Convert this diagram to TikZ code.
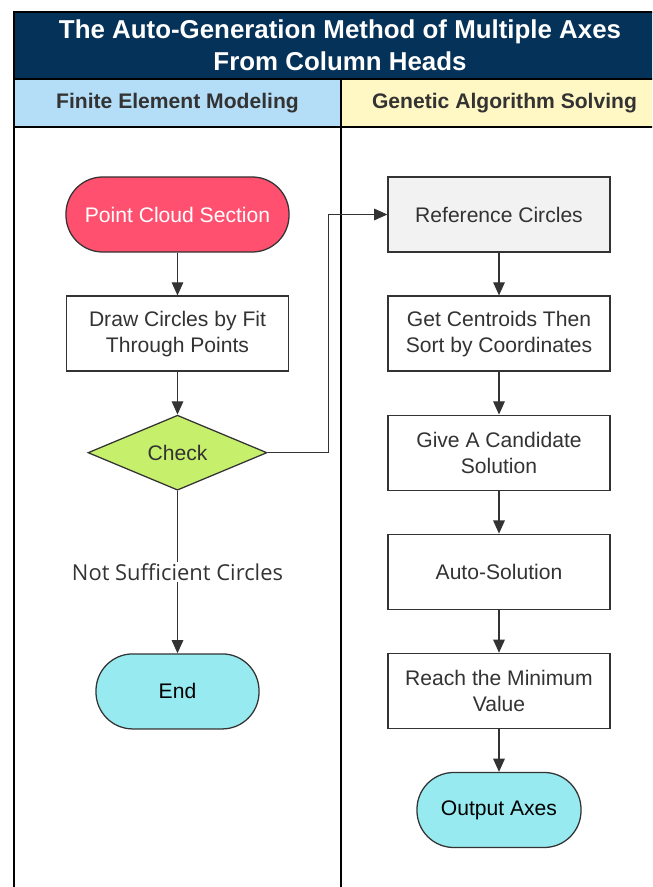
\documentclass[tikz,border=0pt]{standalone}
\usepackage{fontspec}
\setmainfont{Liberation Sans}
\newfontfamily\notefont{Open Sans}
\usepackage{tikz}
\usetikzlibrary{shapes,arrows.meta,positioning,calc}

\definecolor{navy}{RGB}{5,50,88}
\definecolor{headblue}{RGB}{180,222,248}
\definecolor{headyellow}{RGB}{255,248,196}
\definecolor{cloudpink}{RGB}{255,80,112}
\definecolor{checklime}{RGB}{198,240,107}
\definecolor{endcyan}{RGB}{151,234,240}
\definecolor{refgrey}{RGB}{242,242,242}
\definecolor{inkgrey}{RGB}{51,51,51}

\tikzset{
  base/.style={draw=inkgrey, line width=0.9pt, text=inkgrey, align=center,
    font=\fontsize{15}{18.5}\selectfont, minimum width=5.55cm, minimum height=1.875cm, inner sep=2pt},
  process/.style={base, rectangle, fill=white},
  terminal/.style={base, rounded corners=0.92cm, minimum width=4.1cm},
  decision/.style={base, diamond, aspect=2.4, minimum width=4.475cm, minimum height=1.875cm, inner sep=0pt},
  flow/.style={-{Triangle[length=0.33cm,width=0.29cm]}, draw=inkgrey, line width=0.9pt},
  frame/.style={draw=black, line width=1.3pt},
  lanehead/.style={text=inkgrey, font=\bfseries\fontsize{15}{18}\selectfont},
}

\begin{document}
\begin{tikzpicture}[x=0.025cm, y=-0.025cm, node distance=1.07cm]
    \useasboundingbox (0,0) rectangle (652,887);
    \clip (0,0) rectangle (652,887);

    % Title and lane heads
    \fill[navy] (14,12) rectangle (668,79);
    \fill[headblue] (14,79) rectangle (341,127);
    \fill[headyellow] (341,79) rectangle (668,127);
    \node[text=white, align=center, font=\bfseries\fontsize{18.4}{22.8}\selectfont] (title) at (340,45.5)
        {The Auto-Generation Method of Multiple Axes\\From Column Heads};
    \node[lanehead] (femhead) at (177.5,103.5) {Finite Element Modeling};
    \node[lanehead] (gahead) at (504.5,103.5) {Genetic Algorithm Solving};
    \draw[frame] (14,900) -- (14,12) -- (668,12) -- (668,900);
    \draw[frame] (14,79) -- (668,79);
    \draw[frame] (14,127) -- (668,127);
    \draw[frame] (341,79) -- (341,900);

    % Finite element lane
    \node[terminal, fill=cloudpink, text=white, minimum width=5.575cm] (cloud) at (177.5,214.5) {Point Cloud Section};
    \node[process, below=of cloud] (fit) {Draw Circles by Fit\\Through Points};
    \node[decision, fill=checklime, below=of fit] (check) {Check};
    \node[terminal, fill=endcyan, text=black, minimum width=4.075cm, below=4.06cm of check] (end) {End};

    % Genetic algorithm lane
    \node[process, fill=refgrey] (refc) at (499,214.5) {Reference Circles};
    \node[process, below=of refc] (sort) {Get Centroids Then\\Sort by Coordinates};
    \node[process, below=of sort] (cand) {Give A Candidate\\Solution};
    \node[process, below=of cand] (auto) {Auto-Solution};
    \node[process, below=of auto] (minv) {Reach the Minimum\\Value};
    \node[terminal, fill=endcyan, text=black, below=of minv] (axes) {Output Axes};

    % Connectors
    \draw[flow] (cloud) -- (fit);
    \draw[flow] (fit) -- (check);
    \draw[flow] (check) -- node[fill=white, text=inkgrey, inner sep=1pt, font=\notefont\fontsize{15.6}{18}\selectfont] {Not Sufficient Circles} (end);
    \draw[flow] (check.east) -- ++(61,0) |- (refc.west);
    \draw[flow] (refc) -- (sort);
    \draw[flow] (sort) -- (cand);
    \draw[flow] (cand) -- (auto);
    \draw[flow] (auto) -- (minv);
    \draw[flow] (minv) -- (axes);
\end{tikzpicture}
\end{document}
